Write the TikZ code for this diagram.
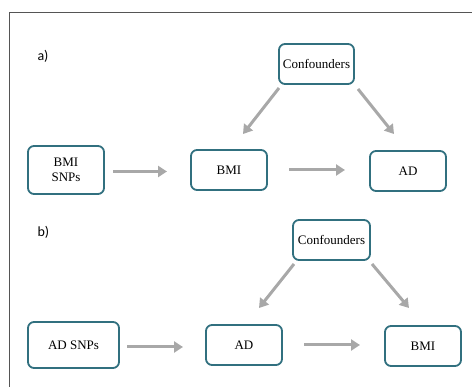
\documentclass[tikz,border=0pt]{standalone}
\usepackage{fontspec}
\setmainfont{Liberation Serif}
\newfontfamily\lblfont{Carlito}
\usetikzlibrary{arrows.meta}
\definecolor{boxc}{HTML}{31707F}
\definecolor{arrc}{HTML}{A8A8A8}
\definecolor{framec}{HTML}{555555}
\begin{document}
\begin{tikzpicture}[x=1pt,y=-1pt,
  box/.style={draw=boxc,line width=1.8pt,rounded corners=6pt,fill=white,align=center,font=\fontsize{13}{14.5}\selectfont,inner sep=0pt},
  arr/.style={draw=arrc,line width=3pt,-{Triangle[length=9pt,width=11pt]}},
  lbl/.style={font=\lblfont\fontsize{14}{16}\selectfont,anchor=west}]
\useasboundingbox (0,0) rectangle (472,387);
\draw[framec,line width=0.9pt] (9,390) -- (9,12) -- (475,12);
% panel a
\node[lbl] (la) at (34,56) {a)};
\node[box,minimum width=75pt,minimum height=40pt] (ca) at (316.5,64) {Confounders};
\node[box,minimum width=76pt,minimum height=48pt] (sa) at (66,170) {BMI\\SNPs};
\node[box,minimum width=76pt,minimum height=40pt] (ba) at (229,170) {BMI};
\node[box,minimum width=76pt,minimum height=40pt] (aa) at (408,171) {AD};
\coordinate (a1s) at (113,171.5); \coordinate (a1e) at (167,171.5);
\coordinate (a2s) at (289,170); \coordinate (a2e) at (345,170);
\coordinate (a3s) at (279,88); \coordinate (a3e) at (243,134);
\coordinate (a4s) at (358,89); \coordinate (a4e) at (394,134);
\draw[arr] (a1s) -- (a1e);
\draw[arr] (a2s) -- (a2e);
\draw[arr] (a3s) -- (a3e);
\draw[arr] (a4s) -- (a4e);
% panel b
\node[lbl] (lb) at (34,232) {b)};
\node[box,minimum width=77pt,minimum height=40pt] (cb) at (331.5,240) {Confounders};
\node[box,minimum width=91pt,minimum height=46pt] (sb) at (73.5,345) {AD SNPs};
\node[box,minimum width=76pt,minimum height=40pt] (ab) at (244,345) {AD};
\node[box,minimum width=76pt,minimum height=40pt] (bb) at (423,346) {BMI};
\coordinate (b1s) at (127,347); \coordinate (b1e) at (183,347);
\coordinate (b2s) at (304,345); \coordinate (b2e) at (360,345);
\coordinate (b3s) at (294,264); \coordinate (b3e) at (259,308);
\coordinate (b4s) at (372,264); \coordinate (b4e) at (409,308);
\draw[arr] (b1s) -- (b1e);
\draw[arr] (b2s) -- (b2e);
\draw[arr] (b3s) -- (b3e);
\draw[arr] (b4s) -- (b4e);
\end{tikzpicture}
\end{document}
